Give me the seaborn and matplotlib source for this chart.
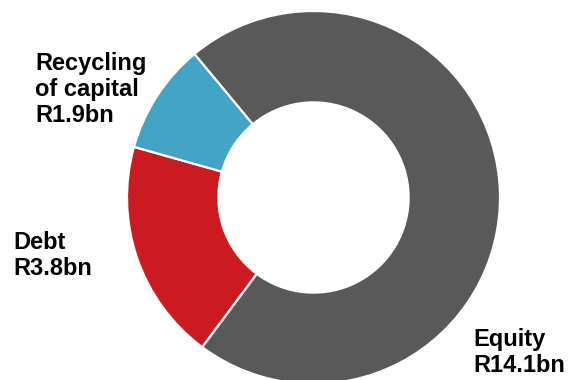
import matplotlib
matplotlib.use("Agg")
import matplotlib.pyplot as plt
import seaborn as sns

categories = ["Equity", "Debt", "Recycling of capital"]
values = [14.1, 3.8, 1.9]
value_labels = ["R14.1bn", "R3.8bn", "R1.9bn"]
label_texts = ["Equity\nR14.1bn", "Debt\nR3.8bn", "Recycling\nof capital\nR1.9bn"]
colors = ["#595959", "#CC1A21", "#42A3C4"]

sns.set_theme(style="white")
plt.rcParams['font.family'] = ['Liberation Sans', 'DejaVu Sans']

W, H = 570, 380
fig = plt.figure(figsize=(W / 100, H / 100), dpi=100)

cx, cy, r = 313.5, 197.5, 186.5
ax = fig.add_axes([(cx - r) / W, (H - cy - r) / H, 2 * r / W, 2 * r / H])
wedges, _ = ax.pie(values, colors=colors, startangle=129.7, counterclock=False,
                   radius=1, wedgeprops=dict(width=0.49, edgecolor="white", linewidth=1.6))
for w in wedges:
    w.set_clip_on(False)
ax.set_xlim(-1, 1)
ax.set_ylim(-1, 1)
ax.set_aspect("equal")
ax.axis("off")

# label positions in pixels (left x, baseline of last line y)
label_pos = [(473, 372), (13, 275), (35, 122)]
for txt, (x, y) in zip(label_texts, label_pos):
    fig.text(x / W, 1 - y / H, txt, ha="left", va="baseline", fontsize=17,
             fontweight="bold", color="#000000", linespacing=1.17)

fig.savefig("out.png", dpi=100, facecolor="white")
